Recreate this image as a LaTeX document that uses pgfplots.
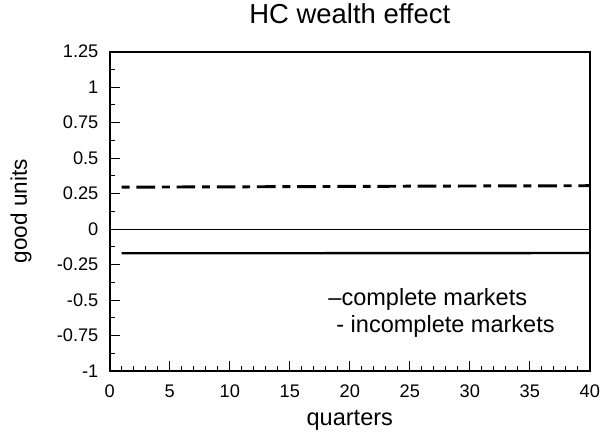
\documentclass[border=0pt]{standalone}
\usepackage{pgfplots}
\pgfplotsset{compat=1.18}
\usepackage{fontspec}
\setmainfont{Liberation Sans}
\begin{document}
\begin{tikzpicture}
\path (-56pt,-33.7pt) rectangle (240pt,189.3pt);
\begin{axis}[
  scale only axis,
  width=245pt, height=163pt,
  xmin=0, xmax=40, ymin=-1, ymax=1.25,
  xtick={0,5,...,40},
  ytick={-1,-0.75,-0.5,-0.25,0,0.25,0.5,0.75,1,1.25},
  yticklabels={-1,-0.75,-0.5,-0.25,0,0.25,0.5,0.75,1,1.25},
  minor x tick num=4,
  minor y tick num=1,
  tick align=inside,
  xtick pos=bottom, ytick pos=left,
  major tick length=5pt, minor tick length=2.5pt,
  every tick/.style={black, line width=0.5pt},
  axis line style={line width=1pt},
  /pgf/number format/assume math mode=true,
  tick label style={font=\fontsize{9.3}{11}\selectfont, inner sep=0pt},
  yticklabel style={anchor=east, xshift=-5.6pt},
  xticklabel style={anchor=north, yshift=-7pt},
  title={HC wealth effect},
  title style={font=\fontsize{14}{16}\selectfont, at={(axis description cs:0.5,1.0503)}, anchor=base, inner sep=0pt},
  xlabel={quarters},
  xlabel style={font=\fontsize{12}{14}\selectfont, at={(axis description cs:0.5,-0.1693)}, anchor=base, inner sep=0pt},
  ylabel={good units},
  ylabel style={font=\fontsize{11.5}{14}\selectfont, at={(axis description cs:-0.1727,0.5)}, anchor=base, inner sep=0pt},
  clip=false,
]
\addplot[black, line width=0.5pt] coordinates {(0,0) (40,0)};
\addplot[black, line width=1.2pt] coordinates {(1,-0.171) (10,-0.171) (20,-0.170) (30,-0.170) (40,-0.169)};
\addplot[black, line width=1.5pt, dash pattern=on 4pt off 3.5pt on 9.5pt off 3.5pt] coordinates {(1,0.295) (10,0.297) (20,0.300) (30,0.303) (40,0.305)};
\node[anchor=base west, font=\fontsize{12}{14}\selectfont, inner sep=0pt] at (axis cs:18.19,-0.54) {–complete markets};
\node[anchor=base west, font=\fontsize{12}{14}\selectfont, inner sep=0pt] at (axis cs:18.85,-0.728) {- incomplete markets};
\end{axis}
\end{tikzpicture}
\end{document}
